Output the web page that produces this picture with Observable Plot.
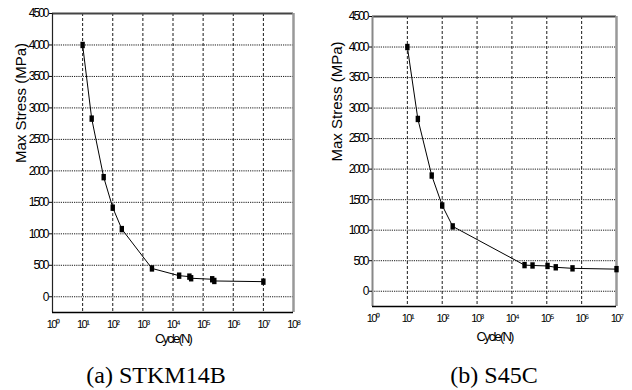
<!DOCTYPE html>
<html>
<head>
<meta charset="utf-8">
<script src="https://cdn.jsdelivr.net/npm/d3@7"></script>
<script src="https://cdn.jsdelivr.net/npm/@observablehq/plot@0.6"></script>
<style>
  html, body { margin: 0; padding: 0; background: #fff; }
  #root { position: relative; width: 632px; height: 390px; overflow: hidden; }
  .panel { position: absolute; top: 0; }
  .caption { position: absolute; top: 362px; font-family: "Liberation Serif", "DejaVu Serif", serif; font-size: 24px; color: #000; text-align: center; white-space: nowrap; }
  g[aria-label="y-axis tick label"] text { letter-spacing: -2px; }
  g[aria-label="x-axis tick label"] text { letter-spacing: -1.5px; }
  .xlab text { letter-spacing: -1.8px; }
</style>
</head>
<body>
<div id="root"></div>
<script>
// ---- data ----
const cyclesA = [10, 20, 50, 100, 200, 2000, 16000, 35000, 40000, 200000, 235000, 10000000];
const stressA = [4000, 2830, 1900, 1415, 1075, 450, 335, 320, 294, 278, 251, 240];
const cyclesB = [10, 20, 50, 100, 200, 23000, 39000, 105000, 181000, 547000, 10000000];
const stressB = [4000, 2822, 1895, 1405, 1062, 428, 422, 414, 392, 375, 362];
const xTicksA = [1, 10, 100, 1000, 10000, 100000, 1000000, 10000000, 100000000];
const xTicksB = [1, 10, 100, 1000, 10000, 100000, 1000000, 10000000];
const yTicks = [0, 500, 1000, 1500, 2000, 2500, 3000, 3500, 4000, 4500];
const yDomain = [-250, 4500];
const xLabel = "Cycle(N)";
const yLabel = "Max Stress (MPa)";
const captions = ["(a) STKM14B", "(b) S45C"];

const sup = {"0":"⁰","1":"¹","2":"²","3":"³","4":"⁴","5":"⁵","6":"⁶","7":"⁷","8":"⁸","9":"⁹"};
const fmtPow = d => "10" + String(Math.round(Math.log10(d))).split("").map(c => sup[c]).join("");

const rectSymbol = { draw(ctx) { ctx.rect(-2.2, -3.2, 4.4, 6.4); } };

function panel(cycles, stress, xTicks, m) {
  const data = cycles.map((c, i) => ({c, s: stress[i]}));
  const xd = [xTicks[0], xTicks[xTicks.length - 1]];
  return Plot.plot({
    width: 316, height: 350,
    marginLeft: m.left, marginRight: m.right, marginTop: m.top, marginBottom: m.bottom,
    style: {fontFamily: "'Liberation Sans', Arial, sans-serif", background: "white", color: "#000", overflow: "visible"},
    x: {type: "log", domain: xd},
    y: {domain: yDomain},
    marks: [
      Plot.gridX(xTicks.slice(1, -1), {stroke: "#000", strokeOpacity: 1, strokeWidth: 0.9, strokeDasharray: "3,2"}),
      Plot.gridY(yTicks.slice(0, -1), {stroke: "#000", strokeOpacity: 1, strokeWidth: 0.9, strokeDasharray: "1.2,1"}),
      Plot.ruleY([yDomain[1]], {stroke: "#444", strokeWidth: 2}),
      Plot.ruleX([xd[1]], {stroke: "#999", strokeWidth: 2.5}),
      Plot.ruleX([xd[0]], {stroke: m.leftColor, strokeWidth: m.leftWidth}),
      Plot.ruleY([yDomain[0]], {stroke: "#000", strokeWidth: 1.5}),
      Plot.axisY({ticks: yTicks, tickSize: 3, tickPadding: 2, tickFormat: d => String(d), fontSize: 12, label: null}),
      Plot.axisX({ticks: xTicks, tickSize: 0, tickPadding: m.xPad, tickFormat: fmtPow, fontSize: 11, label: null}),
      Plot.line(data, {x: "c", y: "s", stroke: "#000", strokeWidth: 1}),
      Plot.dot(data, {x: "c", y: "s", symbol: rectSymbol, fill: "#000", stroke: "none", r: 3}),
      Plot.text([xLabel], {frameAnchor: "bottom", dy: m.xlabDy, text: d => d, fontSize: 13, className: "xlab"}),
      Plot.text([yLabel], {frameAnchor: "left", dx: m.ylabDx, rotate: -90, text: d => d, fontSize: 15})
    ]
  });
}

const root = document.getElementById("root");
const pA = panel(cyclesA, stressA, xTicksA, {left: 52, right: 23, top: 13, bottom: 38, leftColor: "#222", leftWidth: 1.2, xPad: 8, xlabDy: 30, ylabDx: -31});
const pB = panel(cyclesB, stressB, xTicksB, {left: 56, right: 16, top: 16, bottom: 44, leftColor: "#888", leftWidth: 2, xPad: 8, xlabDy: 34, ylabDx: -35});
const wa = document.createElement("div"); wa.className = "panel"; wa.style.left = "0px"; wa.appendChild(pA);
const wb = document.createElement("div"); wb.className = "panel"; wb.style.left = "316px"; wb.appendChild(pB);
root.appendChild(wa); root.appendChild(wb);
const ca = document.createElement("div"); ca.className = "caption"; ca.style.left = "56px"; ca.style.width = "200px"; ca.textContent = captions[0];
const cb = document.createElement("div"); cb.className = "caption"; cb.style.left = "394px"; cb.style.width = "200px"; cb.textContent = captions[1];
root.appendChild(ca); root.appendChild(cb);
</script>
</body>
</html>
